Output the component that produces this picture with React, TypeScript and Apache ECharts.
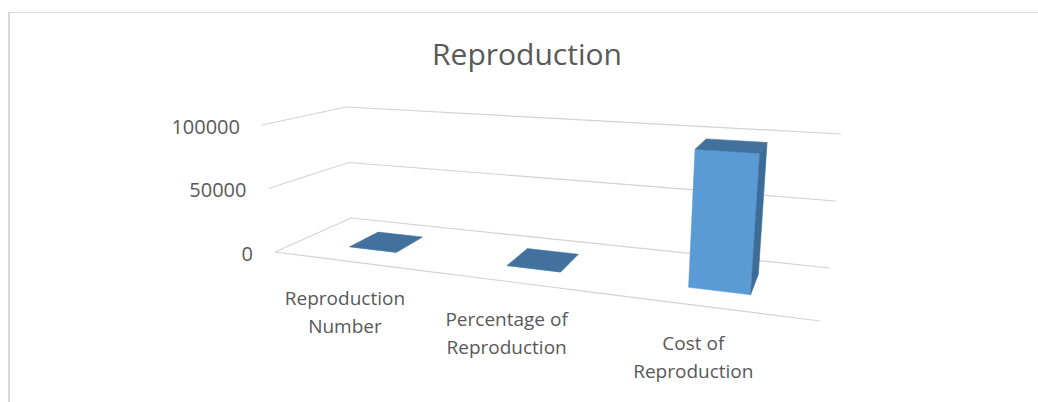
import { useEffect, useRef } from "react";
import * as echarts from "echarts";

// ---- data ----
const chartTitle = "Reproduction";
const categories = ["Reproduction\nNumber", "Percentage of\nReproduction", "Cost of\nReproduction"];
const values = [2.5, 60, 96000];
const yTicks = [0, 50000, 100000];
const yMin = 0;
const yMax = 100000;
const yInterval = 50000;

// ---- 3D box layout (screen corners of the plot box: floor and top plane) ----
const FLOOR = { fl: [275, 252], bl: [351, 218], br: [830, 268], fr: [820, 321] };
const TOP = { fl: [262, 125], bl: [346, 107], br: [841, 134], fr: [833.5, 161] };
const PERSP_U = 1.242; // foreshortening along the category direction
const PERSP_V = 0.869; // foreshortening along the depth direction
const BAR_BAND = 0.31; // bar width as a share of the category band
const BAR_DEPTH = [0.3, 0.71];

const GRID_COLOR = "#d3d3d3";
const FRAME_COLOR = "#d9d9d9";
const TEXT_COLOR = "#595959";
const FONT = "'Open Sans', 'Noto Sans', sans-serif";
const FACE = { front: "#5B9BD5", top: "#41719C", side: "#3D6C99", back: "#3D6C99" };

type Pt = [number, number];
type Quad = { fl: number[]; bl: number[]; br: number[]; fr: number[] };

function bilerp(c: Quad, su: number, sv: number): Pt {
  const a = (1 - su) * (1 - sv), b = (1 - su) * sv, d = su * (1 - sv), e = su * sv;
  return [
    a * c.fl[0] + b * c.bl[0] + d * c.fr[0] + e * c.br[0],
    a * c.fl[1] + b * c.bl[1] + d * c.fr[1] + e * c.br[1],
  ];
}

// u: across categories (0..1), v: depth (0 front .. 1 back), w: height (0..1 of the value axis)
function project(u: number, v: number, w: number): Pt {
  const su = u / (u + PERSP_U * (1 - u));
  const sv = v / (v + PERSP_V * (1 - v));
  const b = bilerp(FLOOR, su, sv);
  const t = bilerp(TOP, su, sv);
  return [b[0] + w * (t[0] - b[0]), b[1] + w * (t[1] - b[1])];
}

function signedArea(p: Pt[]): number {
  let s = 0;
  for (let i = 0; i < p.length; i++) {
    const a = p[i], b = p[(i + 1) % p.length];
    s += a[0] * b[1] - b[0] * a[1];
  }
  return s / 2;
}

function textStyle(text: string, x: number, y: number, size: number, align: string) {
  return {
    text,
    x,
    y,
    fill: TEXT_COLOR,
    font: `${size}px ${FONT}`,
    fontSize: size,
    fontFamily: FONT,
    align,
    verticalAlign: "middle",
    textAlign: align,
    textVerticalAlign: "middle",
    lineHeight: 28,
  };
}

export default function App() {
  const ref = useRef<HTMLDivElement>(null);

  useEffect(() => {
    document.body.style.margin = "0";
    if (!ref.current) return;
    const chart = echarts.init(ref.current, null, { renderer: "svg" });

    const toU = (cs: any, px: number) => (px - cs.x) / cs.width;
    const toW = (cs: any, py: number) => (cs.y + cs.height - py) / cs.height;

    chart.setOption({
      animation: false,
      grid: { left: 100, top: 50, width: 300, height: 300, show: false },
      xAxis: { type: "category", data: categories, show: false },
      yAxis: { type: "value", min: yMin, max: yMax, interval: yInterval, show: false },
      graphic: [
        {
          type: "line",
          shape: { x1: 8, y1: 12.5, x2: 1040, y2: 12.5 },
          style: { stroke: FRAME_COLOR, lineWidth: 1 },
        },
        {
          type: "line",
          shape: { x1: 9, y1: 12, x2: 9, y2: 404 },
          style: { stroke: FRAME_COLOR, lineWidth: 2 },
        },
        {
          type: "text",
          x: 527,
          y: 53,
          style: textStyle(chartTitle, 0, 0, 30, "center"),
        },
      ],
      series: [
        {
          // wall gridlines and value labels
          type: "custom",
          clip: false,
          silent: true,
          data: yTicks.map((t) => [0, t]),
          renderItem: (params: any, api: any) => {
            const cs = params.coordSys;
            const t = api.value(1);
            const w = toW(cs, api.coord([0, t])[1]);
            const a = project(0, 0, w), b = project(0, 1, w), c = project(1, 1, w);
            return {
              type: "group",
              children: [
                {
                  type: "polyline",
                  shape: { points: [a, b, c] },
                  style: { stroke: GRID_COLOR, lineWidth: 1.2, fill: null },
                },
                {
                  type: "text",
                  style: textStyle(String(t), a[0] - 22, a[1] + 1, 20, "right"),
                },
              ],
            };
          },
        },
        {
          // category axis line along the front floor edge, with labels
          type: "custom",
          clip: false,
          silent: true,
          data: categories.map((_, i) => [i]),
          renderItem: (params: any, api: any) => {
            const cs = params.coordSys;
            const i = api.value(0);
            const px = api.coord([i, 0])[0];
            const band = api.size([1, 0])[0] / cs.width;
            const uc = toU(cs, px);
            const a = project(uc - band / 2, 0, 0);
            const b = project(uc + band / 2, 0, 0);
            const m = project(uc, 0, 0);
            const su = uc / (uc + PERSP_U * (1 - uc));
            return {
              type: "group",
              children: [
                {
                  type: "line",
                  shape: { x1: a[0], y1: a[1], x2: b[0], y2: b[1] },
                  style: { stroke: GRID_COLOR, lineWidth: 1.2 },
                },
                {
                  type: "text",
                  style: textStyle(categories[params.dataIndex], m[0] - 3 - 19 * su, m[1] + 50, 19, "center"),
                },
              ],
            };
          },
        },
        {
          // 3D columns
          type: "custom",
          clip: false,
          data: values.map((v, i) => [i, v]),
          encode: { x: 0, y: 1 },
          renderItem: (params: any, api: any) => {
            const cs = params.coordSys;
            const i = api.value(0);
            const val = api.value(1);
            const [px, py] = api.coord([i, val]);
            const band = api.size([1, 0])[0] / cs.width;
            const uc = toU(cs, px);
            const u0 = uc - (band * BAR_BAND) / 2;
            const u1 = uc + (band * BAR_BAND) / 2;
            const h = toW(cs, py);
            const [v0, v1] = BAR_DEPTH;
            const faces: { pts: Pt[]; fill: string }[] = [
              { pts: [project(u0, v0, 0), project(u1, v0, 0), project(u1, v0, h), project(u0, v0, h)], fill: FACE.front },
              { pts: [project(u1, v1, 0), project(u0, v1, 0), project(u0, v1, h), project(u1, v1, h)], fill: FACE.back },
              { pts: [project(u1, v0, 0), project(u1, v1, 0), project(u1, v1, h), project(u1, v0, h)], fill: FACE.side },
              { pts: [project(u0, v1, 0), project(u0, v0, 0), project(u0, v0, h), project(u0, v1, h)], fill: FACE.side },
              { pts: [project(u0, v0, h), project(u1, v0, h), project(u1, v1, h), project(u0, v1, h)], fill: FACE.top },
            ];
            return {
              type: "group",
              children: faces
                .filter((f) => signedArea(f.pts) < 0)
                .map((f) => ({
                  type: "polygon",
                  shape: { points: f.pts },
                  style: { fill: f.fill, stroke: f.fill, lineWidth: 0.5 },
                })),
            };
          },
        },
      ],
    });

    return () => chart.dispose();
  }, []);

  return <div ref={ref} style={{ width: 1038, height: 402 }} />;
}
